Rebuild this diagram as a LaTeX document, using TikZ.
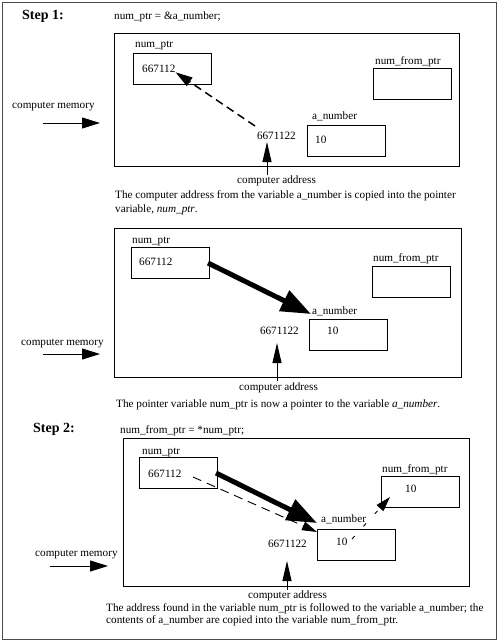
\documentclass[tikz,border=0pt]{standalone}
\usepackage{fontspec}
\setmainfont{Liberation Serif}
\usetikzlibrary{arrows.meta}
\begin{document}
\begin{tikzpicture}[x=1pt,y=-1pt,
  every node/.style={font=\fontsize{11.2}{13}\selectfont, inner sep=0pt},
  txt/.style={anchor=base west},
  steplabel/.style={anchor=base west, font=\bfseries\fontsize{14}{16}\selectfont},
  panel/.style={draw, line width=1.1pt, anchor=north west},
  var/.style={draw, line width=0.9pt, anchor=north west, minimum width=78pt, minimum height=31pt},
  memarrow/.style={line width=1pt, -{Triangle[length=18pt,width=11pt]}},
  addrarrow/.style={line width=1pt, -{Triangle[length=20pt,width=9pt]}},
  dasharrow/.style={line width=1.5pt, dash pattern=on 8pt off 5pt, -{Triangle[length=17pt,width=10pt]}},
  thickarrow/.style={line width=5pt, -{Triangle[length=30pt,width=22pt]}},
  thindash/.style={line width=0.9pt, dash pattern=on 9pt off 6pt, -{Triangle[length=15pt,width=9pt]}}
]
\useasboundingbox (0,0) rectangle (500,643);
\draw[line width=1pt, black!70] (2.5,2.5) rectangle (496.5,639.5);

% ---------------- Step 1 ----------------
\node[steplabel] (s1) at (22,19) {Step 1:};
\node[txt] (c1) at (114,19) {num\_ptr = \&a\_number;};
\node[panel, minimum width=345pt, minimum height=133pt] (p1) at (114,33) {};
\node[var] (np1) at (133,53) {};
\node[txt] (np1l) at (135,47) {num\_ptr};
\node[txt] (np1v) at (142,72) {667112};
\node[var] (nf1) at (373,68) {};
\node[txt] (nf1l) at (375,64) {num\_from\_ptr};
\node[var] (an1) at (307,125) {};
\node[txt] (an1l) at (312,119) {a\_number};
\node[txt] (an1v) at (315,143) {10};
\node[anchor=base east] (ad1) at (296,139) {6671122};
\coordinate (ds1) at (255,126);
\draw[dasharrow] (ds1) -- (np1v.south east);
\node[txt] (ca1) at (237,183) {computer address};
\coordinate (ca1t) at (267,175);
\coordinate (ca1h) at (267,142);
\draw[addrarrow] (ca1t) -- (ca1h);
\node[txt] (cm1) at (12,108) {computer memory};
\coordinate (m1a) at (43,123);
\coordinate (m1b) at (100,123);
\draw[memarrow] (m1a) -- (m1b);
\node[txt] (cap1a) at (115,198) {The computer address from the variable a\_number is copied into the pointer};
\node[txt] (cap1b) at (115,212) {variable, \textit{num\_ptr}.};

% ---------------- Panel 2 ----------------
\node[panel, minimum width=347pt, minimum height=149pt] (p2) at (114,228) {};
\node[var] (np2) at (131,247) {};
\node[txt] (np2l) at (132,243) {num\_ptr};
\node[txt] (np2v) at (139,265) {667112};
\node[var] (nf2) at (372,266) {};
\node[txt] (nf2l) at (373,261) {num\_from\_ptr};
\node[var] (an2) at (309,319) {};
\node[txt] (an2l) at (312,314) {a\_number};
\node[txt] (an2v) at (327,334) {10};
\node[anchor=base east] (ad2) at (299,334) {6671122};
\coordinate (ta2) at (208,263);
\coordinate (tb2) at (311,314);
\draw[thickarrow] (ta2) -- (tb2);
\node[txt] (ca2) at (239,390) {computer address};
\coordinate (ca2t) at (277,381);
\coordinate (ca2h) at (277,343);
\draw[addrarrow] (ca2t) -- (ca2h);
\node[txt] (cm2) at (21,345) {computer memory};
\coordinate (m2a) at (43,354);
\coordinate (m2b) at (100,354);
\draw[memarrow] (m2a) -- (m2b);
\node[txt] (cap2) at (116,407) {The pointer variable num\_ptr is now a pointer to the variable \textit{a\_number}.};

% ---------------- Step 2 ----------------
\node[steplabel] (s2) at (33,432) {Step 2:};
\node[txt] (c2) at (120,433) {num\_from\_ptr = *num\_ptr;};
\node[panel, minimum width=346pt, minimum height=148pt] (p3) at (123,438) {};
\node[var] (np3) at (139,457) {};
\node[txt] (np3l) at (142,454) {num\_ptr};
\node[txt] (np3v) at (148,477) {667112};
\node[var] (nf3) at (381,476) {};
\node[txt] (nf3l) at (382,472) {num\_from\_ptr};
\node[txt] (nf3v) at (405,492) {10};
\node[var] (an3) at (317,529) {};
\node[txt] (an3l) at (321,522) {a\_number};
\node[txt] (an3v) at (336,545) {10};
\node[anchor=base east] (ad3) at (307,547) {6671122};
\coordinate (ta3) at (216,473);
\coordinate (tb3) at (317,523);
\coordinate (da3) at (193,477);
\coordinate (db3) at (317,532);
\draw[thindash] (da3) -- (db3);
\draw[thickarrow] (ta3) -- (tb3);
\coordinate (dc3) at (352,539);
\coordinate (dd3) at (390,497);
\draw[thindash, dash pattern=on 4pt off 13pt] (dc3) -- (dd3);
\node[txt] (ca3) at (248,598) {computer address};
\coordinate (ca3t) at (287,590);
\coordinate (ca3h) at (287,561);
\draw[addrarrow] (ca3t) -- (ca3h);
\node[txt] (cm3) at (35,556) {computer memory};
\coordinate (m3a) at (50,566);
\coordinate (m3b) at (108,566);
\draw[memarrow] (m3a) -- (m3b);
\node[txt] (cap3a) at (106,611) {The address found in the variable num\_ptr is followed to the variable a\_number; the};
\node[txt] (cap3b) at (106,623) {contents of a\_number are copied into the variable num\_from\_ptr.};
\end{tikzpicture}
\end{document}
